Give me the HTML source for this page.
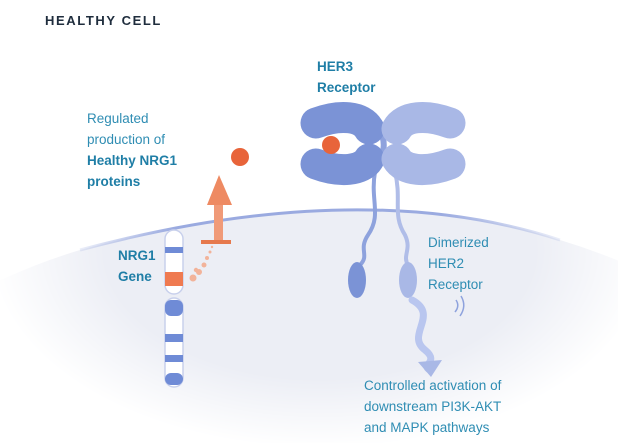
<!DOCTYPE html>
<html><head><style>
body{margin:0;width:618px;height:443px;overflow:hidden;background:#fff;font-family:"Liberation Sans",sans-serif}
.t{position:absolute;font-size:13.5px;color:#2f8db3;line-height:21px}
b{font-weight:bold;color:#1f7ea6}
</style></head><body>
<svg width="618" height="443" style="position:absolute;left:0;top:0">
<defs>
<radialGradient id="mg" cx="320" cy="250" r="330" gradientUnits="userSpaceOnUse" gradientTransform="translate(320,250) scale(1,0.6) translate(-320,-250)">
<stop offset="0" stop-color="#fff"/><stop offset="0.65" stop-color="#fff"/><stop offset="1" stop-color="#000"/></radialGradient>
<mask id="m"><rect width="618" height="443" fill="url(#mg)"/></mask>
<linearGradient id="mb" x1="0" x2="1"><stop offset="0" stop-color="#9aaae0" stop-opacity="0.2"/><stop offset="0.2" stop-color="#9aaae0"/><stop offset="0.75" stop-color="#9aaae0"/><stop offset="1" stop-color="#9aaae0" stop-opacity="0.2"/></linearGradient>
</defs>
<path d="M80,250 Q360,175 560,240 Q600,252 640,270 L640,443 L-20,443 L-20,290 Q30,265 80,250 Z" fill="#eceef5" mask="url(#m)"/>
<path d="M80,250 Q360,175 560,240" fill="none" stroke="url(#mb)" stroke-width="3"/>
<!-- chromosome -->
<rect x="165" y="230" width="18" height="64" rx="9" fill="#fff" stroke="#c8d0ec" stroke-width="1.5"/>
<rect x="165" y="298" width="18" height="89" rx="9" fill="#fff" stroke="#c8d0ec" stroke-width="1.5"/>
<rect x="165" y="247" width="18" height="6" fill="#6f8bd6"/>
<rect x="165" y="272" width="18" height="14" fill="#ef7a50"/>
<rect x="165" y="300" width="18" height="16" rx="6" fill="#6f8bd6"/>
<rect x="165" y="334" width="18" height="8" fill="#6f8bd6"/>
<rect x="165" y="355" width="18" height="7" fill="#6f8bd6"/>
<rect x="165" y="373" width="18" height="12" rx="6" fill="#6f8bd6"/>
<g fill="#f2b39a"><circle cx="193" cy="278" r="3.5"/><circle cx="199" cy="272" r="3"/><circle cx="204" cy="265" r="2.5"/><circle cx="207" cy="258" r="2"/><circle cx="210" cy="252" r="1.5"/><circle cx="196" cy="270" r="2.2"/><circle cx="212" cy="247" r="1.2"/></g>
<!-- arrow -->
<rect x="214" y="200" width="9" height="40" fill="#f09a78"/>
<path d="M207,205 L219,175 L232,205 Z" fill="#ee8a62"/>
<rect x="201" y="240" width="30" height="4" fill="#e6794d"/>
<circle cx="240" cy="157" r="9" fill="#e8643a"/>
<!-- receptor stems -->
<path d="M375,172 C370,200 382,215 368,235 C358,250 370,255 360,265" fill="none" stroke="#8ea2dd" stroke-width="4"/>
<path d="M395,172 C402,200 392,215 405,235 C412,250 402,255 408,265" fill="none" stroke="#b0bde8" stroke-width="4"/>
<path d="M380,130 C385,140 385,150 380,160" fill="none" stroke="#8ea2dd" stroke-width="6"/>
<ellipse cx="357" cy="280" rx="9" ry="18" fill="#7b93d6"/>
<ellipse cx="408" cy="280" rx="9" ry="18" fill="#a9b8e6"/>
<!-- lobes -->
<g fill="none" stroke-linecap="round" stroke-width="31">
<path d="M316,123 C340,114 362,116 369,129" stroke="#7b93d6"/>
<path d="M316,164 C340,173 362,171 369,159" stroke="#7b93d6"/>
<path d="M450,123 C426,114 404,116 397,129" stroke="#a9b8e6"/>
<path d="M450,164 C426,173 404,171 397,159" stroke="#a9b8e6"/>
</g>
<circle cx="331" cy="145" r="9" fill="#e8643a"/>
<!-- signal arrow -->
<path d="M412,300 C440,315 405,335 425,350 C440,362 420,365 430,370" fill="none" stroke="#b9c6ef" stroke-width="7" stroke-linecap="round"/>
<path d="M418,362 L431,377 L442,360 Z" fill="#a9b8e6"/>
<path d="M456,300 Q460,306 455,312 M461,296 Q467,306 460,316" fill="none" stroke="#8ea2dd" stroke-width="1.5"/>
</svg>
<div style="position:absolute;left:45px;top:13px;font-size:13px;font-weight:bold;letter-spacing:1.6px;color:#1f2d3d">HEALTHY CELL</div>
<div class="t" style="left:317px;top:56px"><b>HER3<br>Receptor</b></div>
<div class="t" style="left:87px;top:108px">Regulated<br>production of<br><b>Healthy NRG1<br>proteins</b></div>
<div class="t" style="left:118px;top:245px"><b>NRG1<br>Gene</b></div>
<div class="t" style="left:428px;top:232px">Dimerized<br>HER2<br>Receptor</div>
<div class="t" style="left:364px;top:375px">Controlled activation of<br>downstream PI3K-AKT<br>and MAPK pathways</div>
</body></html>
